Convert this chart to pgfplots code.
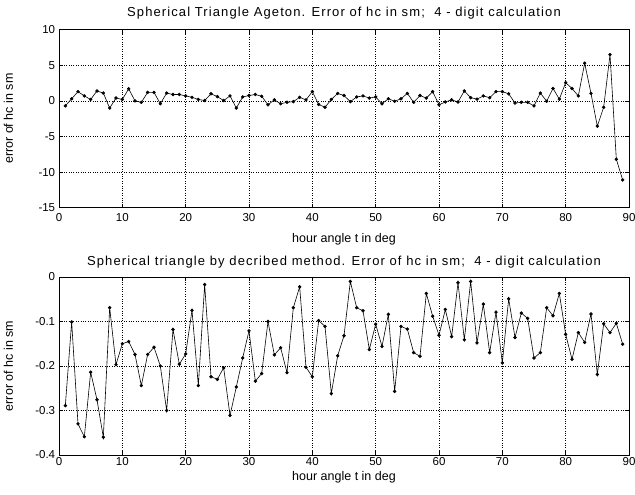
\documentclass[border=0pt]{standalone}
\usepackage{pgfplots}
\pgfplotsset{compat=1.18}
\usepackage{fontspec}
\setmainfont{Liberation Sans}
\newfontfamily\titlefont[LetterSpace=8.5]{Liberation Sans}
\begin{document}
\fontsize{11pt}{13pt}\selectfont
\begin{tikzpicture}[x=1pt,y=1pt]
\useasboundingbox (0,0) rectangle (635,495);
\pgfplotsset{
  myax/.style={
    scale only axis, width=570pt, height=178pt,
    xmin=0, xmax=90, xtick={0,10,...,90},
    tick align=inside, grid=major,
    major grid style={black, dotted, line width=0.6pt},
    axis line style={black, line width=0.6pt},
    tick style={black, line width=0.6pt},
    major tick length=4pt,
    /pgf/number format/assume math mode=true,
    ticklabel style={font=\fontsize{11.5pt}{13pt}\selectfont},
    label style={font=\fontsize{12.5pt}{14pt}\selectfont},
    title style={font=\titlefont\fontsize{13pt}{15pt}\selectfont, at={(axis description cs:0.5,1)}, anchor=center},
    xlabel={hour angle t in deg},
    ylabel={error of hc in sm},
    xlabel style={at={(axis description cs:0.5,0)}, anchor=center},
    ylabel style={at={(axis description cs:0,0.5)}, anchor=center, yshift=50.5pt},
  }
}
\begin{axis}[myax, at={(59pt,287.3pt)}, anchor=south west,
  ymin=-15, ymax=10, ytick={-15,-10,...,10},
  xticklabel style={yshift=-2pt},
  xlabel style={yshift=-31.5pt},
  title style={yshift=11pt},
  title={Spherical Triangle Ageton. Error of hc in sm;\ \ 4 - digit calculation}]
\addplot[black, line width=0.6pt, mark=*, mark size=1.4pt] coordinates {
(1,-0.7)(2,0.3)(3,1.3)(4,0.7)(5,0.2)(6,1.4)(7,1.1)(8,-1.0)(9,0.4)(10,0.2)
(11,1.7)(12,0)(13,-0.2)(14,1.2)(15,1.2)(16,-0.4)(17,1.1)(18,0.9)(19,0.9)(20,0.7)
(21,0.5)(22,0.2)(23,0.05)(24,1.0)(25,0.6)(26,0.05)(27,0.7)(28,-1.0)(29,0.55)(30,0.75)
(31,0.9)(32,0.65)(33,-0.55)(34,0.15)(35,-0.4)(36,-0.2)(37,-0.1)(38,0.5)(39,0.15)(40,1.3)
(41,-0.5)(42,-0.9)(43,0.2)(44,1.05)(45,0.75)(46,-0.1)(47,0.55)(48,0.7)(49,0.4)(50,0.55)
(51,-0.4)(52,0.3)(53,-0.05)(54,0.3)(55,1.05)(56,-0.2)(57,0.75)(58,0.4)(59,1.3)(60,-0.55)
(61,-0.15)(62,0.15)(63,-0.15)(64,1.4)(65,0.45)(66,0.25)(67,0.7)(68,0.45)(69,1.3)(70,1.3)
(71,1.0)(72,-0.3)(73,-0.2)(74,-0.2)(75,-0.7)(76,1.1)(77,-0.05)(78,1.75)(79,0.25)(80,2.55)
(81,1.75)(82,0.7)(83,5.3)(84,1.05)(85,-3.55)(86,-0.9)(87,6.5)(88,-8.2)(89,-11.1)
};
\end{axis}
\begin{axis}[myax, at={(59pt,40pt)}, anchor=south west,
  ymin=-0.4, ymax=0, ytick={-0.4,-0.3,...,0},
  yticklabel style={/pgf/number format/fixed},
  xticklabel style={yshift=1pt},
  xlabel style={yshift=-22pt},
  title style={yshift=8.5pt},
  title={Spherical triangle by decribed method. Error of hc in sm;\ \ 4 - digit calculation}]
\addplot[black, line width=0.6pt, mark=*, mark size=1.4pt] coordinates {
(1,-0.289)(2,-0.101)(3,-0.33)(4,-0.359)(5,-0.214)(6,-0.276)(7,-0.36)(8,-0.069)(9,-0.197)(10,-0.15)
(11,-0.145)(12,-0.174)(13,-0.244)(14,-0.174)(15,-0.158)(16,-0.2)(17,-0.3)(18,-0.118)(19,-0.196)(20,-0.173)
(21,-0.075)(22,-0.244)(23,-0.017)(24,-0.224)(25,-0.23)(26,-0.204)(27,-0.311)(28,-0.247)(29,-0.182)(30,-0.121)
(31,-0.234)(32,-0.217)(33,-0.1)(34,-0.175)(35,-0.159)(36,-0.215)(37,-0.069)(38,-0.022)(39,-0.203)(40,-0.224)
(41,-0.098)(42,-0.111)(43,-0.262)(44,-0.177)(45,-0.132)(46,-0.01)(47,-0.069)(48,-0.076)(49,-0.163)(50,-0.106)
(51,-0.156)(52,-0.084)(53,-0.257)(54,-0.111)(55,-0.117)(56,-0.17)(57,-0.178)(58,-0.037)(59,-0.088)(60,-0.131)
(61,-0.073)(62,-0.134)(63,-0.013)(64,-0.141)(65,-0.01)(66,-0.148)(67,-0.061)(68,-0.17)(69,-0.079)(70,-0.193)
(71,-0.049)(72,-0.136)(73,-0.081)(74,-0.093)(75,-0.182)(76,-0.17)(77,-0.069)(78,-0.087)(79,-0.037)(80,-0.129)
(81,-0.185)(82,-0.125)(83,-0.147)(84,-0.083)(85,-0.219)(86,-0.105)(87,-0.125)(88,-0.104)(89,-0.151)
};
\end{axis}
\end{tikzpicture}
\end{document}
